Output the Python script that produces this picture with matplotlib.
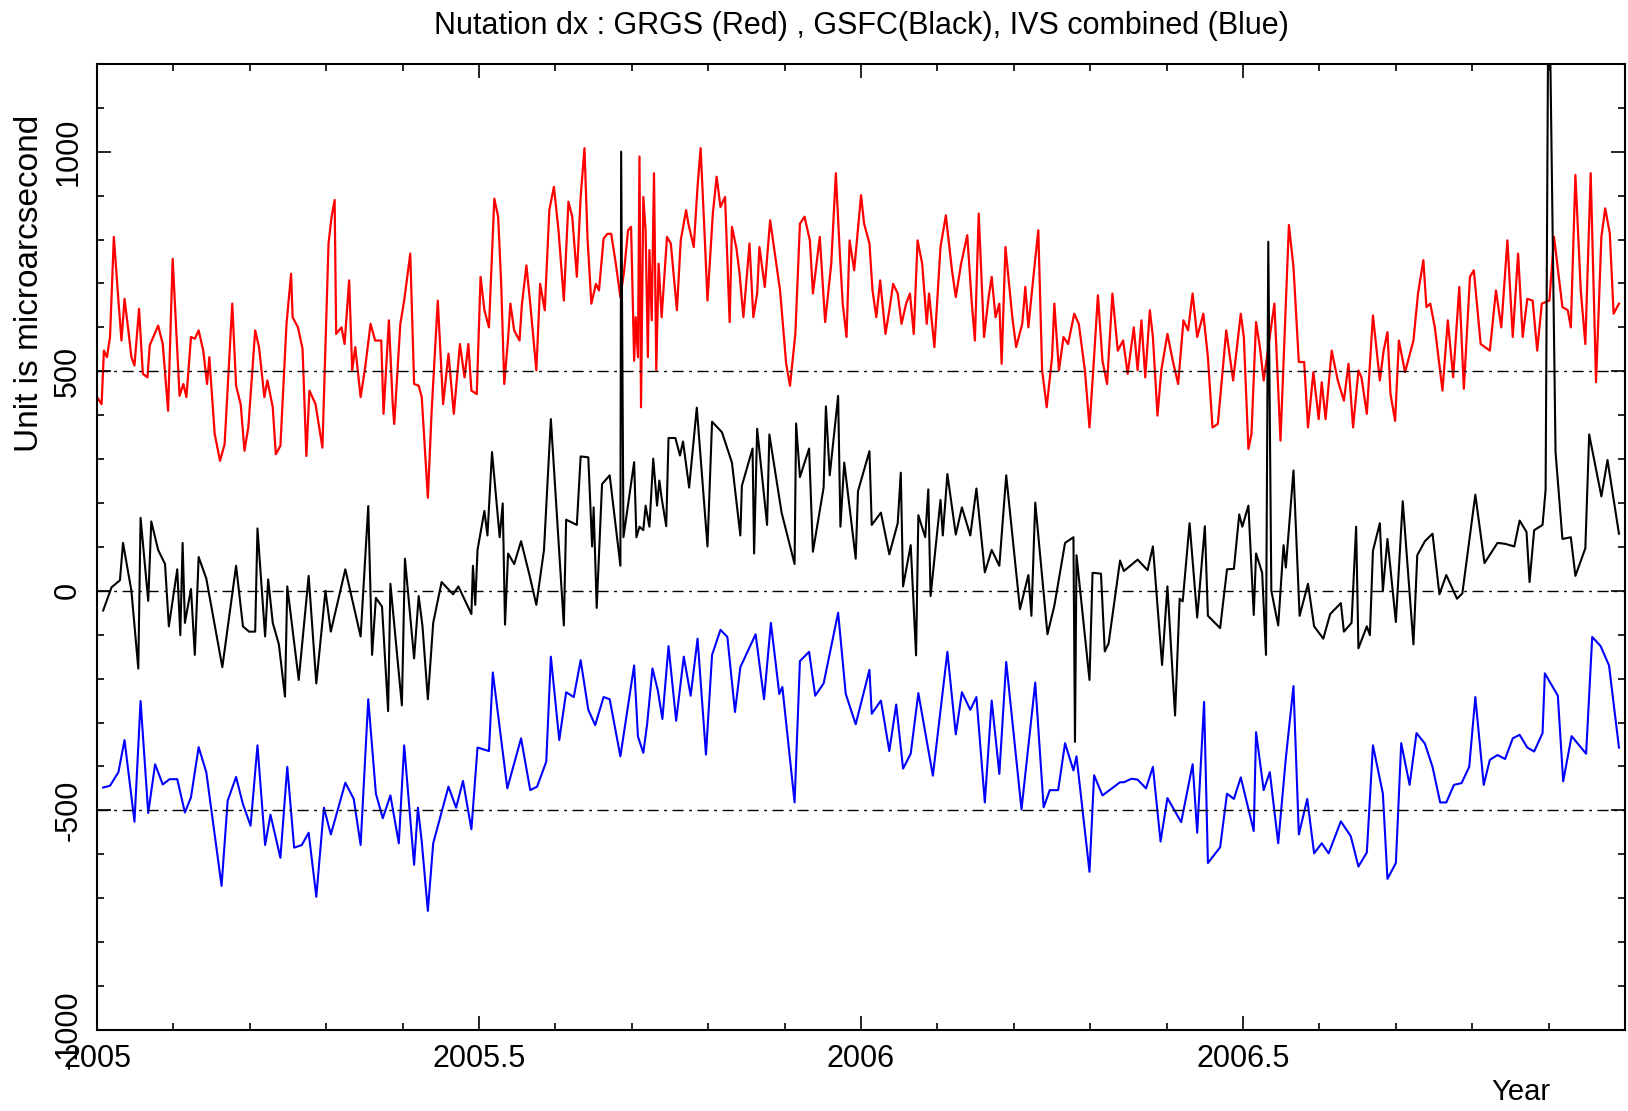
import matplotlib
matplotlib.use('Agg')
import matplotlib.pyplot as plt
from matplotlib.ticker import MultipleLocator, FixedLocator, FuncFormatter

# GRGS (red)
red_year = [
    2005.000, 2005.006, 2005.009, 2005.013, 2005.017, 2005.022, 2005.028, 2005.032, 2005.036, 2005.041,
    2005.045, 2005.049, 2005.055, 2005.060, 2005.066, 2005.069, 2005.080, 2005.086, 2005.093, 2005.099,
    2005.108, 2005.113, 2005.117, 2005.123, 2005.128, 2005.133, 2005.139, 2005.144, 2005.147, 2005.154,
    2005.161, 2005.167, 2005.177, 2005.182, 2005.188, 2005.193, 2005.198, 2005.207, 2005.212, 2005.219,
    2005.223, 2005.230, 2005.234, 2005.240, 2005.248, 2005.254, 2005.256, 2005.263, 2005.269, 2005.274,
    2005.278, 2005.286, 2005.295, 2005.303, 2005.307, 2005.311, 2005.313, 2005.320, 2005.324, 2005.330,
    2005.334, 2005.338, 2005.345, 2005.351, 2005.358, 2005.364, 2005.372, 2005.375, 2005.382, 2005.387,
    2005.389, 2005.397, 2005.402, 2005.410, 2005.415, 2005.421, 2005.425, 2005.433, 2005.438, 2005.446,
    2005.453, 2005.460, 2005.467, 2005.475, 2005.481,
    2005.486, 2005.490, 2005.497, 2005.502, 2005.507, 2005.513, 2005.520, 2005.525, 2005.529, 2005.533,
    2005.538, 2005.541, 2005.546, 2005.553, 2005.556, 2005.562, 2005.567, 2005.575, 2005.580, 2005.586,
    2005.592, 2005.598, 2005.604, 2005.611, 2005.617, 2005.622, 2005.628, 2005.633, 2005.638, 2005.642,
    2005.647, 2005.653, 2005.657, 2005.663, 2005.668, 2005.673, 2005.679, 2005.685, 2005.690, 2005.695,
    2005.699, 2005.703, 2005.705, 2005.708, 2005.710, 2005.712, 2005.715, 2005.718, 2005.721, 2005.723,
    2005.726, 2005.729, 2005.732, 2005.735, 2005.739, 2005.746, 2005.751, 2005.759, 2005.764, 2005.771,
    2005.774, 2005.781, 2005.786, 2005.790, 2005.795, 2005.799, 2005.806, 2005.811, 2005.816, 2005.822,
    2005.828, 2005.831, 2005.837, 2005.841, 2005.846, 2005.854, 2005.859, 2005.864, 2005.867, 2005.874,
    2005.881, 2005.886, 2005.894, 2005.902, 2005.907, 2005.914, 2005.920, 2005.926, 2005.933, 2005.937,
    2005.946, 2005.953, 2005.961, 2005.967, 2005.972, 2005.976, 2005.981, 2005.985, 2005.991,
    2006.000, 2006.004, 2006.011, 2006.015, 2006.020, 2006.025, 2006.032, 2006.037, 2006.042, 2006.048,
    2006.053, 2006.059, 2006.064, 2006.069, 2006.074, 2006.080, 2006.086, 2006.089, 2006.096, 2006.104,
    2006.111, 2006.119, 2006.124, 2006.131, 2006.139, 2006.145, 2006.149, 2006.154, 2006.161, 2006.167,
    2006.171, 2006.176, 2006.181, 2006.184, 2006.189, 2006.198, 2006.203, 2006.211, 2006.215, 2006.219,
    2006.226, 2006.232, 2006.237, 2006.243, 2006.250, 2006.253, 2006.259, 2006.265, 2006.271, 2006.279,
    2006.285, 2006.293, 2006.299, 2006.305, 2006.310, 2006.316, 2006.322, 2006.329, 2006.336, 2006.343,
    2006.349, 2006.357, 2006.362, 2006.367, 2006.372, 2006.378, 2006.382, 2006.388, 2006.393, 2006.401,
    2006.408, 2006.415, 2006.422, 2006.428, 2006.434, 2006.440, 2006.448, 2006.454, 2006.460, 2006.467,
    2006.478, 2006.487,
    2006.497, 2006.501, 2006.507, 2006.511, 2006.517, 2006.522, 2006.527, 2006.541, 2006.549, 2006.560,
    2006.566, 2006.573, 2006.580, 2006.585, 2006.592, 2006.599, 2006.603, 2006.608, 2006.616, 2006.624,
    2006.632, 2006.638, 2006.644, 2006.651, 2006.655, 2006.662, 2006.670, 2006.679, 2006.684, 2006.689,
    2006.693, 2006.699, 2006.704, 2006.712, 2006.723, 2006.729, 2006.736, 2006.740, 2006.745, 2006.751,
    2006.761, 2006.768, 2006.775, 2006.783, 2006.789, 2006.797, 2006.802, 2006.811, 2006.823, 2006.831,
    2006.838, 2006.846, 2006.853, 2006.860, 2006.866, 2006.872, 2006.879, 2006.885, 2006.891, 2006.901,
    2006.907, 2006.918, 2006.925, 2006.929, 2006.935, 2006.942, 2006.948, 2006.955, 2006.962, 2006.969,
    2006.974, 2006.980, 2006.985, 2006.992,
]
red_dx = [
    441, 425, 547, 532, 578, 806, 661, 570, 665, 593,
    532, 513, 642, 494, 486, 559, 604, 562, 410, 756,
    444, 471, 441, 578, 574, 593, 547, 471, 532, 357,
    296, 334, 654, 467, 425, 319, 372, 593, 555, 441,
    479, 418, 311, 330, 608, 722, 623, 600, 551, 307,
    456, 425, 326, 791, 852, 890, 585, 600, 562, 707,
    502, 555, 441, 509, 608, 570, 570, 403, 616, 425,
    380, 608, 661, 768, 471, 467, 441, 212, 410, 661,
    425, 540, 403, 562, 486,
    562, 456, 448, 715, 639, 600, 893, 852, 699, 471,
    574, 654, 593, 570, 650, 741, 654, 502, 699, 639,
    867, 920, 821, 661, 886, 852, 715, 897, 1008, 802,
    654, 699, 684, 802, 813, 813, 745, 669, 730, 821,
    829, 524, 623, 532, 989, 418, 897, 821, 532, 776,
    616, 951, 502, 745, 623, 806, 791, 639, 798, 867,
    836, 783, 920, 1008, 821, 661, 859, 943, 874, 897,
    612, 829, 779, 722, 623, 791, 623, 677, 783, 692,
    844, 783, 684, 517, 467, 585, 836, 852, 798, 677,
    806, 612, 745, 951, 776, 654, 578, 798, 730,
    901, 836, 791, 684, 623, 707, 585, 639, 699, 677,
    608, 654, 677, 585, 798, 745, 608, 677, 555, 783,
    855, 730, 669, 745, 810, 654, 570, 859, 578, 669,
    715, 623, 654, 517, 783, 623, 555, 608, 692, 600,
    722, 821, 502, 418, 532, 654, 502, 578, 562, 631,
    608, 502, 372, 532, 673, 524, 471, 677, 547, 570,
    494, 600, 502, 616, 486, 639, 578, 399, 502, 585,
    524, 471, 616, 593, 677, 578, 631, 532, 372, 380,
    593, 479,
    631, 578, 323, 357, 612, 555, 479, 654, 342, 833,
    737, 521, 521, 372, 498, 391, 475, 391, 547, 479,
    433, 517, 372, 502, 486, 403, 627, 479, 547, 589,
    448, 387, 570, 498, 570, 677, 753, 646, 654, 600,
    456, 616, 486, 692, 460, 715, 730, 562, 547, 684,
    600, 798, 578, 768, 578, 665, 661, 547, 654, 661,
    806, 646, 639, 600, 947, 684, 562, 951, 475, 806,
    871, 814, 631, 654,
]

# GSFC (black)
black_year = [
    2005.008, 2005.019, 2005.030, 2005.034, 2005.045, 2005.054, 2005.057, 2005.067, 2005.071, 2005.080,
    2005.089, 2005.094, 2005.105, 2005.109, 2005.112, 2005.115, 2005.123, 2005.128, 2005.133, 2005.143,
    2005.164, 2005.182, 2005.191, 2005.199, 2005.207, 2005.210, 2005.220, 2005.224, 2005.230, 2005.238,
    2005.246, 2005.249, 2005.264, 2005.277, 2005.287, 2005.299, 2005.306, 2005.325, 2005.345, 2005.355,
    2005.360, 2005.365, 2005.373, 2005.381, 2005.384, 2005.399, 2005.403, 2005.415, 2005.421, 2005.426,
    2005.433, 2005.440, 2005.451, 2005.466, 2005.473, 2005.490,
    2005.492, 2005.495, 2005.498, 2005.507, 2005.511, 2005.517, 2005.527, 2005.531, 2005.534, 2005.538,
    2005.546, 2005.555, 2005.566, 2005.575, 2005.585, 2005.594, 2005.611, 2005.614, 2005.628, 2005.633,
    2005.643, 2005.648, 2005.650, 2005.654, 2005.661, 2005.671, 2005.685, 2005.686, 2005.689, 2005.703,
    2005.706, 2005.710, 2005.715, 2005.718, 2005.723, 2005.728, 2005.733, 2005.736, 2005.739, 2005.745,
    2005.748, 2005.757, 2005.763, 2005.767, 2005.775, 2005.785, 2005.799, 2005.805, 2005.818, 2005.831,
    2005.842, 2005.844, 2005.858, 2005.860, 2005.864, 2005.877, 2005.880, 2005.896, 2005.913, 2005.915,
    2005.920, 2005.932, 2005.937, 2005.951, 2005.954, 2005.959, 2005.970, 2005.973, 2005.978, 2005.993,
    2005.996,
    2006.011, 2006.014, 2006.026, 2006.037, 2006.048, 2006.052, 2006.055, 2006.065, 2006.072, 2006.075,
    2006.084, 2006.088, 2006.091, 2006.104, 2006.107, 2006.113, 2006.124, 2006.132, 2006.143, 2006.151,
    2006.162, 2006.171, 2006.181, 2006.190, 2006.208, 2006.219, 2006.223, 2006.228, 2006.244, 2006.253,
    2006.267, 2006.278, 2006.280, 2006.282, 2006.299, 2006.303, 2006.314, 2006.319, 2006.324, 2006.339,
    2006.344, 2006.362, 2006.375, 2006.382, 2006.394, 2006.401, 2006.411, 2006.417, 2006.421, 2006.430,
    2006.440, 2006.450, 2006.454, 2006.470, 2006.479, 2006.488,
    2006.495, 2006.499, 2006.507, 2006.514, 2006.517, 2006.525, 2006.530, 2006.533, 2006.537, 2006.546,
    2006.553, 2006.556, 2006.566, 2006.574, 2006.585, 2006.593, 2006.605, 2006.614, 2006.628, 2006.632,
    2006.642, 2006.648, 2006.651, 2006.662, 2006.666, 2006.670, 2006.679, 2006.683, 2006.689, 2006.700,
    2006.709, 2006.723, 2006.728, 2006.738, 2006.748, 2006.757, 2006.766, 2006.780, 2006.787, 2006.804,
    2006.816, 2006.833, 2006.843, 2006.855, 2006.862, 2006.871, 2006.875, 2006.881, 2006.892, 2006.896,
    2006.900, 2006.909, 2006.918, 2006.929, 2006.935, 2006.948, 2006.953, 2006.969, 2006.977, 2006.992,
]
black_dx = [
    -45, 8, 24, 109, 0, -177, 166, -23, 158, 93,
    61, -81, 49, -101, 109, -73, 4, -146, 77, 28,
    -174, 57, -81, -93, -93, 142, -104, 26, -73, -122,
    -241, 10, -203, 34, -211, 0, -93, 49, -104, 193,
    -146, -16, -36, -274, 16, -261, 73, -154, -12, -81,
    -247, -73, 20, -8, 10, -53,
    57, -32, 93, 182, 126, 316, 122, 199, -77, 85,
    61, 113, 36, -32, 93, 391, -79, 162, 150, 306,
    304, 101, 190, -39, 243, 263, 57, 1000, 122, 293,
    122, 146, 138, 194, 146, 301, 194, 251, 211, 147,
    348, 348, 308, 340, 235, 417, 101, 385, 361, 292,
    126, 239, 324, 85, 369, 150, 356, 178, 61, 381,
    259, 324, 89, 235, 420, 263, 444, 146, 292, 73,
    227,
    318, 150, 178, 83, 154, 269, 10, 104, -147, 172,
    122, 231, -12, 207, 126, 266, 128, 190, 126, 233,
    42, 93, 57, 263, -42, 36, -57, 201, -99, -34,
    109, 122, -344, 81, -203, 41, 39, -138, -120, 69,
    45, 71, 47, 101, -169, 10, -284, -18, -24, 154,
    -61, 147, -57, -85, 49, 50,
    174, 146, 194, -55, 85, 41, -146, 795, 0, -79,
    104, 53, 274, -57, 16, -81, -109, -53, -28, -93,
    -73, 146, -131, -81, -101, 91, 154, 0, 118, -71,
    204, -122, 81, 113, 130, -8, 36, -18, -6, 219,
    63, 109, 107, 101, 160, 134, 20, 138, 150, 230,
    1500, 316, 118, 122, 34, 97, 356, 215, 298, 130,
]

# IVS combined (blue)
blue_year = [
    2005.008, 2005.017, 2005.028, 2005.036, 2005.049, 2005.057, 2005.067, 2005.076, 2005.086, 2005.095,
    2005.105, 2005.115, 2005.123, 2005.133, 2005.143, 2005.163, 2005.171, 2005.182, 2005.191, 2005.201,
    2005.210, 2005.220, 2005.227, 2005.240, 2005.249, 2005.258, 2005.268, 2005.277, 2005.287, 2005.297,
    2005.306, 2005.325, 2005.336, 2005.345, 2005.355, 2005.365, 2005.374, 2005.384, 2005.395, 2005.402,
    2005.415, 2005.420, 2005.425, 2005.433, 2005.440, 2005.460, 2005.470, 2005.479,
    2005.490, 2005.498, 2005.513, 2005.518, 2005.537, 2005.555, 2005.567, 2005.576, 2005.588, 2005.594,
    2005.605, 2005.614, 2005.624, 2005.633, 2005.643, 2005.652, 2005.663, 2005.671, 2005.685, 2005.703,
    2005.708, 2005.715, 2005.720, 2005.727, 2005.734, 2005.740, 2005.748, 2005.758, 2005.768, 2005.777,
    2005.786, 2005.797, 2005.805, 2005.816, 2005.825, 2005.835, 2005.842, 2005.862, 2005.873, 2005.882,
    2005.893, 2005.897, 2005.913, 2005.920, 2005.932, 2005.940, 2005.951, 2005.970, 2005.980, 2005.993,
    2006.011, 2006.014, 2006.026, 2006.037, 2006.046, 2006.055, 2006.065, 2006.075, 2006.094, 2006.113,
    2006.124, 2006.132, 2006.143, 2006.151, 2006.162, 2006.171, 2006.181, 2006.190, 2006.210, 2006.228,
    2006.239, 2006.247, 2006.258, 2006.267, 2006.278, 2006.282, 2006.299, 2006.305, 2006.316, 2006.339,
    2006.344, 2006.354, 2006.362, 2006.373, 2006.382, 2006.392, 2006.401, 2006.419, 2006.434, 2006.440,
    2006.449, 2006.454, 2006.470, 2006.479, 2006.488,
    2006.497, 2006.514, 2006.517, 2006.527, 2006.535, 2006.546, 2006.556, 2006.566, 2006.573, 2006.584,
    2006.593, 2006.603, 2006.612, 2006.628, 2006.641, 2006.651, 2006.662, 2006.670, 2006.683, 2006.689,
    2006.700, 2006.707, 2006.718, 2006.727, 2006.738, 2006.748, 2006.758, 2006.766, 2006.776, 2006.786,
    2006.796, 2006.804, 2006.815, 2006.823, 2006.833, 2006.843, 2006.853, 2006.862, 2006.872, 2006.881,
    2006.892, 2006.895, 2006.912, 2006.919, 2006.930, 2006.949, 2006.957, 2006.968, 2006.979, 2006.992,
]
blue_dx = [
    -448, -444, -413, -340, -526, -251, -506, -395, -441, -429,
    -429, -505, -470, -356, -413, -672, -478, -424, -486, -535,
    -352, -579, -510, -608, -401, -585, -579, -551, -697, -494,
    -555, -437, -474, -579, -247, -462, -518, -466, -575, -352,
    -624, -494, -571, -729, -575, -446, -494, -433,
    -543, -357, -365, -186, -450, -336, -454, -446, -389, -150,
    -340, -231, -242, -158, -271, -306, -242, -247, -377, -170,
    -332, -369, -304, -177, -227, -292, -126, -296, -150, -239,
    -109, -373, -146, -89, -105, -276, -174, -99, -247, -73,
    -235, -219, -482, -160, -139, -239, -211, -50, -235, -304,
    -180, -280, -250, -365, -259, -405, -371, -233, -421, -139,
    -327, -231, -271, -242, -482, -250, -417, -162, -498, -209,
    -493, -454, -454, -347, -409, -377, -640, -420, -466, -436,
    -436, -428, -430, -450, -401, -571, -472, -527, -395, -551,
    -253, -620, -584, -462, -474,
    -425, -547, -322, -454, -413, -575, -381, -217, -555, -474,
    -598, -575, -598, -525, -559, -628, -596, -352, -462, -656,
    -620, -347, -442, -324, -348, -401, -482, -482, -442, -438,
    -401, -242, -442, -385, -374, -383, -336, -328, -357, -366,
    -324, -188, -239, -434, -331, -371, -105, -126, -170, -357,
]

ref_levels = [500, 0, -500]
x_major = [2005, 2005.5, 2006, 2006.5]

plt.rcParams['font.family'] = ['Liberation Sans', 'DejaVu Sans']
plt.rcParams['axes.unicode_minus'] = False

fig = plt.figure(figsize=(16.28, 11.11), dpi=100)
ax = fig.add_axes([0.0596, 0.073, 0.9386, 0.8695])

ax.plot(red_year, red_dx, color='#ff0000', lw=1.6)
ax.plot(black_year, black_dx, color='black', lw=1.5)
ax.plot(blue_year, blue_dx, color='#0000ff', lw=1.5)

# dash-dot reference lines
for lev in ref_levels:
    ax.axhline(lev, color='black', lw=1.0, ls=(0, (8, 4, 2, 4)), zorder=5)

ax.set_xlim(2005, 2007)
ax.set_ylim(-1000, 1200)

ax.xaxis.set_major_locator(FixedLocator(x_major))
ax.xaxis.set_minor_locator(MultipleLocator(0.1))
ax.yaxis.set_major_locator(MultipleLocator(500))
ax.yaxis.set_minor_locator(MultipleLocator(100))
ax.xaxis.set_major_formatter(FuncFormatter(lambda v, p: f'{v:g}'))
ax.yaxis.set_major_formatter(FuncFormatter(lambda v, p: f'{v:g}'))

ax.tick_params(which='both', direction='in', top=True, right=True, width=1.2)
ax.tick_params(which='major', length=10)
ax.tick_params(which='minor', length=5)
ax.tick_params(axis='x', labelsize=22, pad=10)
ax.tick_params(axis='y', labelsize=22, pad=10, labelrotation=90)
plt.setp(ax.get_yticklabels(), va='center')

for s in ax.spines.values():
    s.set_linewidth(1.5)

fig.text(0.529, 0.977, 'Nutation dx : GRGS (Red) , GSFC(Black), IVS combined (Blue)',
         ha='center', va='center', fontsize=22)
fig.text(0.934, 0.017, 'Year', ha='center', va='center', fontsize=21)
fig.text(0.018, 0.745, 'Unit is microarcsecond', rotation=90,
         ha='center', va='center', fontsize=24)

plt.savefig('out.png', dpi=100)
